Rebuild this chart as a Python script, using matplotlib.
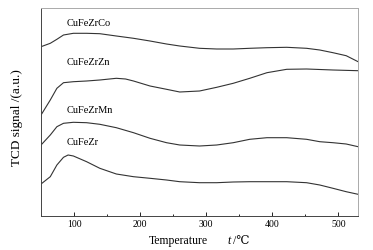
import matplotlib
matplotlib.use("Agg")
import matplotlib.pyplot as plt
from matplotlib.ticker import MultipleLocator

plt.rcParams['font.family'] = ['Liberation Serif', 'DejaVu Serif', 'Noto Sans CJK SC']

# (signal in arbitrary units)
t_co = [50, 64, 74, 84, 99, 119, 139, 164, 190, 215, 240, 260, 290, 316, 341, 366, 392, 422, 452, 472, 492, 512, 530]
co = [169.3, 172.7, 176.7, 181, 182.7, 182.7, 182.3, 180, 177.7, 175, 172, 170, 167.7, 167, 167, 167.7, 168.3, 168.7, 167.7, 166, 163.3, 160.3, 154.3]

t_zn = [50, 64, 74, 84, 99, 119, 139, 164, 178, 190, 215, 240, 260, 290, 316, 341, 366, 392, 422, 452, 492, 530]
zn = [101, 116, 127.7, 133.3, 134.3, 135, 136, 137.7, 137, 135, 130, 126.7, 124, 125, 128.7, 132.7, 137.7, 143.3, 146.7, 147, 146, 145.3]

t_mn = [50, 64, 74, 84, 99, 119, 139, 164, 190, 215, 240, 260, 290, 316, 341, 366, 392, 422, 452, 472, 492, 512, 530]
mn = [71, 81, 89.3, 92.7, 93.7, 93.3, 91.7, 88.3, 83.3, 77.7, 73.3, 71, 70, 71, 73.3, 76.7, 78.3, 78.3, 76.7, 74.3, 73.3, 72, 69.3]

t_zr = [50, 64, 74, 84, 91, 99, 119, 139, 164, 190, 215, 240, 260, 290, 316, 341, 366, 392, 422, 452, 472, 492, 512, 530]
zr = [32, 39.3, 51, 58.7, 61, 60, 54.3, 47.7, 42, 39.3, 37.7, 36, 34.3, 33.3, 33.3, 34, 34.3, 34.3, 34.3, 33.3, 31, 27.7, 24.3, 21.7]

names = ['CuFeZrCo', 'CuFeZrZn', 'CuFeZrMn', 'CuFeZr']
label_y = [192, 153.3, 105.3, 73.3]

fig = plt.figure(figsize=(3.73, 2.5), dpi=100)
ax = fig.add_axes([0.110, 0.136, 0.850, 0.832])

for t, s in [(t_co, co), (t_zn, zn), (t_mn, mn), (t_zr, zr)]:
    ax.plot(t, s, color='#333333', linewidth=0.8)

for name, y in zip(names, label_y):
    ax.text(89, y, name, fontsize=7.5, va='center', ha='left')

ax.set_xlim(50, 530)
ax.set_ylim(0, 208)
ax.xaxis.set_major_locator(MultipleLocator(100))
ax.xaxis.set_minor_locator(MultipleLocator(50))
ax.set_yticks([])
ax.tick_params(axis='x', which='major', direction='in', length=3, width=0.6, labelsize=7, pad=3)
ax.tick_params(axis='x', which='minor', direction='in', length=1.5, width=0.6)

for side in ['left', 'bottom']:
    ax.spines[side].set_color('#444444')
    ax.spines[side].set_linewidth(0.7)
for side in ['top', 'right']:
    ax.spines[side].set_color('#aaaaaa')
    ax.spines[side].set_linewidth(0.7)

# axis titles
fig.text(149 / 373, 1 - 241 / 250, 'Temperature', fontsize=8.5, ha='left', va='center')
fig.text(227 / 373, 1 - 241 / 250, 't', fontsize=8.5, ha='left', va='center', style='italic')
fig.text(233 / 373, 1 - 241 / 250, '/℃', fontsize=8.5, ha='left', va='center')
fig.text(17 / 373, 1 - 118 / 250, 'TCD signal /(a.u.)', fontsize=9.5, ha='center', va='center', rotation=90)

plt.savefig("out.png", dpi=100)
